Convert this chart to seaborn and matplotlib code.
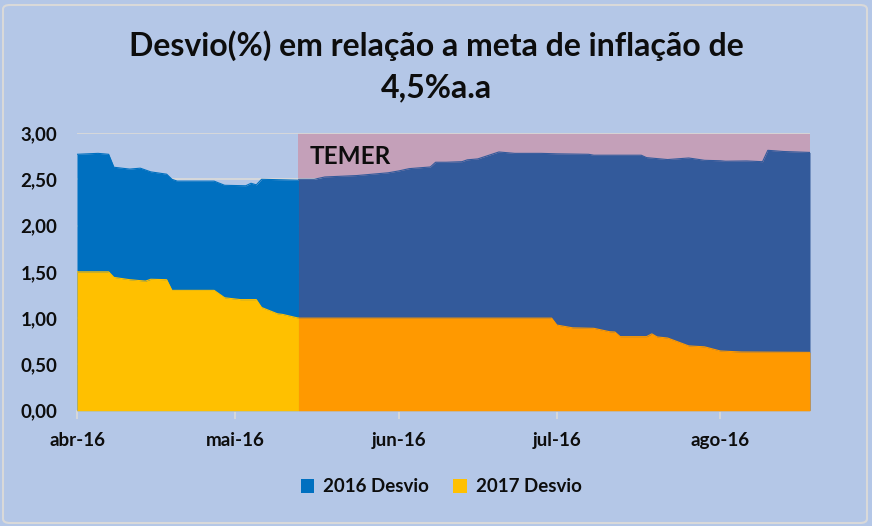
import matplotlib
matplotlib.use("Agg")
import matplotlib.pyplot as plt
from matplotlib.patches import Patch, FancyBboxPatch
import pandas as pd
import seaborn as sns

# ---------------- data ----------------
title_text = "Desvio(%) em relação a meta de inflação de\n4,5%a.a"
series_names = ["2016 Desvio", "2017 Desvio"]
annotation_text = "TEMER"

# before Temer
dates_2016_pre = ["2016-04-01", "2016-04-05", "2016-04-07", "2016-04-08", "2016-04-11",
                  "2016-04-13", "2016-04-15", "2016-04-18", "2016-04-19", "2016-04-20",
                  "2016-04-27", "2016-04-29", "2016-05-03", "2016-05-04", "2016-05-05",
                  "2016-05-06", "2016-05-13"]
vals_2016_pre = [2.77, 2.78, 2.77, 2.63, 2.61, 2.62, 2.58, 2.555, 2.50, 2.48,
                 2.48, 2.435, 2.43, 2.457, 2.44, 2.50, 2.49]

dates_2017_pre = ["2016-04-01", "2016-04-07", "2016-04-08", "2016-04-11", "2016-04-14",
                  "2016-04-15", "2016-04-18", "2016-04-19", "2016-04-27", "2016-04-29",
                  "2016-05-02", "2016-05-05", "2016-05-06", "2016-05-09", "2016-05-10",
                  "2016-05-13"]
vals_2017_pre = [1.50, 1.50, 1.44, 1.415, 1.40, 1.42, 1.415, 1.30, 1.30, 1.22,
                 1.20, 1.20, 1.115, 1.047, 1.04, 1.00]

# Temer period
dates_2016_post = ["2016-05-13", "2016-05-16", "2016-05-18", "2016-05-24", "2016-05-28",
                   "2016-05-30", "2016-06-01", "2016-06-03", "2016-06-07", "2016-06-08",
                   "2016-06-10", "2016-06-13", "2016-06-14", "2016-06-16", "2016-06-20",
                   "2016-06-23", "2016-06-28", "2016-07-01", "2016-07-07", "2016-07-08",
                   "2016-07-17", "2016-07-18", "2016-07-22", "2016-07-26", "2016-07-29",
                   "2016-08-01", "2016-08-02", "2016-08-06", "2016-08-09", "2016-08-10",
                   "2016-08-13", "2016-08-18"]
vals_2016_post = [2.50, 2.50, 2.525, 2.54, 2.56, 2.57, 2.59, 2.615, 2.633, 2.684,
                  2.684, 2.69, 2.71, 2.72, 2.795, 2.78, 2.78, 2.775, 2.77, 2.76,
                  2.76, 2.734, 2.713, 2.73, 2.705, 2.70, 2.695, 2.698, 2.69, 2.813,
                  2.80, 2.79]

dates_2017_post = ["2016-05-13", "2016-06-30", "2016-07-01", "2016-07-04", "2016-07-08",
                   "2016-07-11", "2016-07-12", "2016-07-13", "2016-07-18", "2016-07-19",
                   "2016-07-20", "2016-07-22", "2016-07-26", "2016-07-29", "2016-08-01",
                   "2016-08-05", "2016-08-18"]
vals_2017_post = [1.00, 1.00, 0.925, 0.895, 0.89, 0.853, 0.85, 0.80, 0.80, 0.83,
                  0.797, 0.785, 0.70, 0.69, 0.645, 0.634, 0.63]

temer_start = "2016-05-13"
temer_end = "2016-08-18"
temer_level = 3.0

x_tick_dates = ["2016-04-01", "2016-05-01", "2016-06-01", "2016-07-01", "2016-08-01"]
x_tick_labels = ["abr-16", "mai-16", "jun-16", "jul-16", "ago-16"]
y_ticks = [0.0, 0.5, 1.0, 1.5, 2.0, 2.5, 3.0]
y_tick_labels = ["0,00", "0,50", "1,00", "1,50", "2,00", "2,50", "3,00"]

# ---------------- style ----------------
BG = "#B4C7E7"
BLUE = "#0070C0"
YELLOW = "#FFC000"
DBLUE = "#335A9B"
ORANGE = "#FF9900"
PINK = "#C4A0B9"
GRID = "#D9D9D9"
TXT = "#0D0D0D"

sns.set_theme(style="white")
plt.rcParams["font.family"] = ["Lato", "DejaVu Sans"]
plt.rcParams["font.weight"] = "bold"

fig = plt.figure(figsize=(8.72, 5.26), dpi=100, facecolor=BG)
ax = fig.add_axes([77 / 872, 1 - 410.7 / 526, (810 - 77) / 872, (410.7 - 133) / 526])
ax.set_facecolor(BG)

def frame(dates, vals, name):
    return pd.DataFrame({"date": pd.to_datetime(dates), "value": vals, "serie": name})

d16a = frame(dates_2016_pre, vals_2016_pre, series_names[0])
d17a = frame(dates_2017_pre, vals_2017_pre, series_names[1])
d16b = frame(dates_2016_post, vals_2016_post, series_names[0])
d17b = frame(dates_2017_post, vals_2017_post, series_names[1])

# Temer shaded band
ts, te = pd.to_datetime(temer_start), pd.to_datetime(temer_end)
ax.fill_between([ts, te], 0, temer_level, color=PINK, lw=0, zorder=1)

# gridlines
for yv in y_ticks[1:]:
    ax.axhline(yv, color=GRID, lw=1.3, zorder=1.5)

# areas
for df, col in [(d16a, BLUE), (d16b, DBLUE), (d17a, YELLOW), (d17b, ORANGE)]:
    ax.fill_between(df["date"], 0, df["value"], color=col, lw=0, zorder=2)
    sns.lineplot(data=df, x="date", y="value", color=col, lw=0.8, ax=ax,
                 zorder=2.1, legend=False)

ax.set_xlim(pd.to_datetime(dates_2016_pre[0]), te)
ax.set_ylim(0, 3.0)
ax.set_xlabel("")
ax.set_ylabel("")

ax.set_xticks(pd.to_datetime(x_tick_dates))
ax.set_xticklabels(x_tick_labels)
ax.set_yticks(y_ticks)
ax.set_yticklabels(y_tick_labels)
ax.tick_params(axis="x", length=6, width=1.3, color=GRID, pad=9,
               labelsize=13.5, labelcolor=TXT, direction="out", bottom=True)
ax.tick_params(axis="y", length=0, pad=14, labelsize=13.5, labelcolor=TXT)
for lab in ax.get_xticklabels() + ax.get_yticklabels():
    lab.set_fontweight("bold")

for s in ["top", "right", "left"]:
    ax.spines[s].set_visible(False)
ax.spines["bottom"].set_color(GRID)
ax.spines["bottom"].set_linewidth(1.3)
ax.spines["bottom"].set_zorder(1.2)

ax.text(0.318, 0.955, annotation_text, transform=ax.transAxes, ha="left", va="top",
        fontsize=17.5, fontweight="bold", color=TXT, zorder=5)

fig.text(0.501, 1 - 66 / 526, title_text, ha="center", va="center",
         fontsize=23, fontweight="bold", color=TXT, linespacing=1.5)

handles = [Patch(facecolor=BLUE, edgecolor="none"), Patch(facecolor=YELLOW, edgecolor="none")]
leg = fig.legend(handles, series_names, loc="center", bbox_to_anchor=(0.506, 1 - 487 / 526),
                 ncol=2, frameon=False, handlelength=0.7, handleheight=0.7,
                 handletextpad=0.5, columnspacing=1.3,
                 prop={"size": 13.5, "weight": "bold"})
for t in leg.get_texts():
    t.set_color(TXT)

border = FancyBboxPatch((3 / 872, 3 / 526), 864 / 872, 518 / 526,
                        boxstyle="round,pad=0,rounding_size=0.008",
                        transform=fig.transFigure, fill=False, edgecolor=GRID, lw=1.5)
fig.patches.append(border)

fig.savefig("out.png", dpi=100, facecolor=BG)
